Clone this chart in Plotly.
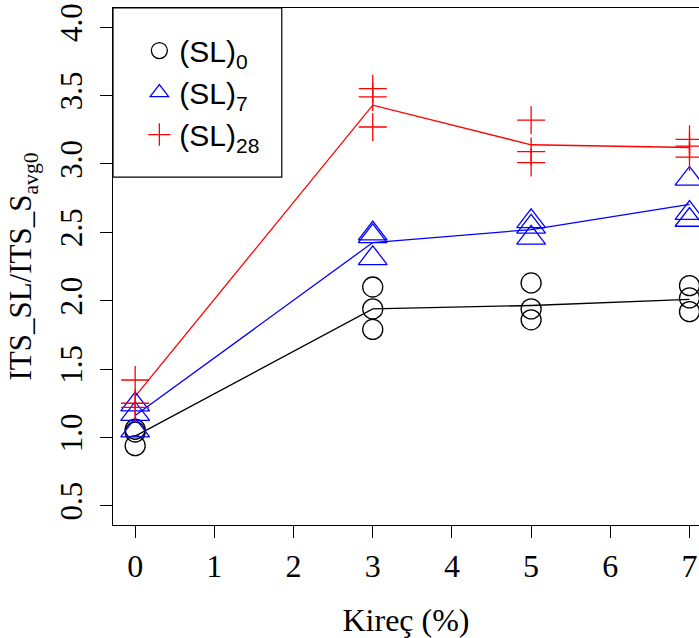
import plotly.graph_objects as go

# ---- data ----
kirec_points = [0, 0, 0, 3, 3, 3, 5, 5, 5, 7, 7, 7]
kirec_levels = [0, 3, 5, 7]

sl0_values = [1.06, 1.04, 0.94, 2.10, 1.94, 1.79, 2.13, 1.94, 1.86, 2.11, 2.02, 1.92]
sl7_values = [1.24, 1.17, 1.05, 2.49, 2.47, 2.31, 2.58, 2.54, 2.46, 2.89, 2.64, 2.59]
sl28_values = [1.42, 1.25, 1.22, 3.55, 3.49, 3.27, 3.32, 3.09, 3.01, 3.18, 3.13, 3.05]

sl0_mean = [1.01, 1.94, 1.965, 2.01]
sl7_mean = [1.16, 2.425, 2.52, 2.705]
sl28_mean = [1.30, 3.43, 3.14, 3.12]

series_names = ["(SL)<sub>0</sub>", "(SL)<sub>7</sub>", "(SL)<sub>28</sub>"]
series_colors = ["black", "blue", "red"]
series_symbols = ["circle-open", "triangle-up-open", "cross-thin-open"]
series_sizes = [20, 25, 20]

x_ticks = [0, 1, 2, 3, 4, 5, 6, 7]
y_ticks = [0.5, 1.0, 1.5, 2.0, 2.5, 3.0, 3.5, 4.0]
y_ticklabels = ["0.5", "1.0", "1.5", "2.0", "2.5", "3.0", "3.5", "4.0"]

fig = go.Figure()

all_values = [sl0_values, sl7_values, sl28_values]
all_means = [sl0_mean, sl7_mean, sl28_mean]

for i in range(3):
    fig.add_trace(go.Scatter(
        x=kirec_levels, y=all_means[i], mode="lines",
        line=dict(color=series_colors[i], width=1.3),
        showlegend=False, hoverinfo="skip",
    ))

for i in range(3):
    fig.add_trace(go.Scatter(
        x=kirec_points, y=all_values[i], mode="markers",
        name=series_names[i], legendgroup=f"g{i}",
        marker=dict(symbol=series_symbols[i], size=series_sizes[i],
                    color=series_colors[i], line=dict(color=series_colors[i], width=1.3)),
    ))

serif = "Liberation Serif, Times New Roman, serif"

fig.update_layout(
    width=699, height=638,
    margin=dict(l=113, r=0, t=8, b=113),
    paper_bgcolor="white", plot_bgcolor="white",
    showlegend=True,
    legend=dict(
        x=0.045, y=0.968, xanchor="left", yanchor="top",
        bgcolor="rgba(0,0,0,0)", borderwidth=0,
        font=dict(family="Liberation Sans, Arial, sans-serif", size=30, color="black"),
        tracegroupgap=0,
    ),
    shapes=[dict(
        type="rect", xref="paper", yref="paper",
        x0=0, x1=0.288, y0=0.673, y1=1,
        line=dict(color="black", width=1.2), fillcolor="white", layer="below",
    )],
    xaxis=dict(
        range=[-0.28, 7.12], tickmode="array", tickvals=x_ticks,
        ticktext=[str(v) for v in x_ticks],
        showgrid=False, zeroline=False, automargin=False,
        showline=True, linecolor="black", linewidth=1.2, mirror=True,
        ticks="outside", ticklen=12, tickcolor="black", tickwidth=1.2,
        tickfont=dict(family=serif, size=32, color="black"),
        ticklabelstandoff=0,
        title=dict(text="Kireç (%)", font=dict(family=serif, size=32, color="black"), standoff=26),
    ),
    yaxis=dict(
        range=[0.36, 4.14], tickmode="array", tickvals=y_ticks, ticktext=y_ticklabels,
        showgrid=False, zeroline=False, automargin=False,
        showline=True, linecolor="black", linewidth=1.2, mirror=False,
        ticks="outside", ticklen=12, tickcolor="black", tickwidth=1.2,
        tickangle=-90,
        tickfont=dict(family=serif, size=31, color="black"),
        ticklabelstandoff=6,
        title=dict(text="ITS_SL/ITS_S<sub>avg0</sub>", font=dict(family=serif, size=31, color="black"), standoff=12),
    ),
)

fig.write_html(
    "out.html",
    config={"displayModeBar": False},
    post_script="document.body.style.margin='0';document.body.style.overflow='hidden';",
)
